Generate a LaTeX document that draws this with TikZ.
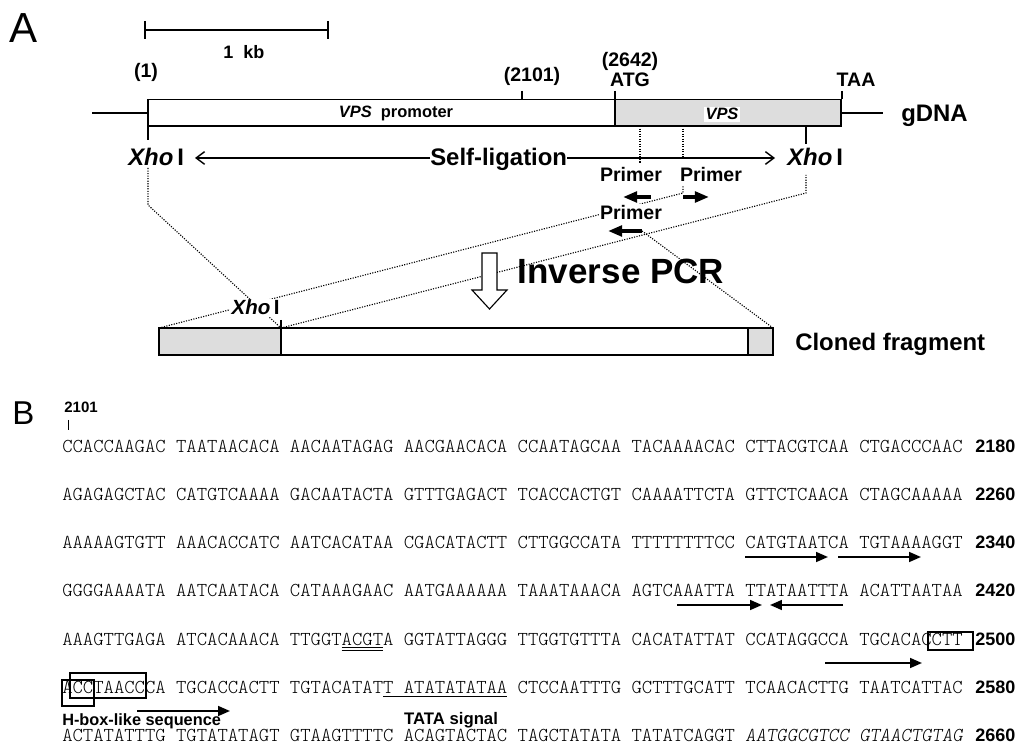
\documentclass[tikz,border=0pt]{standalone}
\usepackage{fontspec}
\setmainfont{Liberation Sans}
\newfontfamily\seqfont{lmmonolt10-regular.otf}[ItalicFont=lmmonolt10-oblique.otf]
\usepackage{tikz}
\usetikzlibrary{arrows.meta,positioning,calc}
\definecolor{cgene}{RGB}{221,221,221}
\tikzset{
  panel/.style={inner sep=0pt, font=\fontsize{29.9}{32}\selectfont},
  lab/.style={inner sep=0pt, anchor=base, font=\fontsize{13.9}{15}\selectfont\bfseries},
  biglab/.style={inner sep=0pt, anchor=base west, font=\fontsize{17}{19}\selectfont\bfseries},
  seqrow/.style={inner sep=0pt, anchor=base west, font=\seqfont\fontsize{14.02}{16}\selectfont},
  seqnum/.style={inner sep=0pt, anchor=base west, font=\fontsize{12.8}{14}\selectfont\bfseries},
  gene/.style={draw, line width=1.1pt},
  guide/.style={densely dotted, line width=0.8pt},
  ligarr/.style={-{Straight Barb[length=6pt,width=9pt]}, line width=1pt},
  primarr/.style={-{Triangle[length=10pt,width=7.5pt]}, line width=2.5pt},
  seqarr/.style={-{Triangle[length=8.5pt,width=7pt]}, line width=1.4pt},
  hbox/.style={draw, line width=0.9pt}
}
\begin{document}
\begin{tikzpicture}[x=0.025cm, y=-0.025cm]
    \useasboundingbox (0,0) rectangle (1018,753);

    %% ---- A: gDNA map ----------------------------------------------
    \node[panel] (pA) at (24,28) {A};

    \coordinate (kb0) at (145,30);
    \coordinate (kb1) at (328,30);
    \draw[line width=1pt] (kb0) -- (kb1);
    \draw[line width=1pt] ($(kb0)+(0,-9)$) -- ($(kb0)+(0,9)$);
    \draw[line width=1pt] ($(kb1)+(0,-9)$) -- ($(kb1)+(0,9)$);
    \node[lab, font=\fontsize{12.8}{14}\selectfont\bfseries] (kb) at (244,59) {1\ \ kb};

    \draw[gene] (92,113) -- (148,113);
    \draw[gene] (841,113) -- (883,113);
    \draw[gene, fill=white] (148,99.5) rectangle (615,126);
    \draw[gene, fill=cgene] (615,99.5) rectangle (841,126);

    \draw[line width=1.6pt] (148,99.5) -- (148,140);
    \draw[line width=1pt] (522,91) -- (522,99.5);
    \draw[line width=1pt] (615,91) -- (615,99.5);
    \draw[line width=1pt] (842,91) -- (842,99.5);
    \draw[line width=1pt] (806,126) -- (806,144);

    \node[lab] (p1)    at (146,78) {(1)};
    \node[lab] (p2101) at (532,82) {(2101)};
    \node[lab] (p2642) at (630,67) {(2642)};
    \node[lab] (atg)   at (630,87) {ATG};
    \node[lab] (taa)   at (856,87) {TAA};
    \node[lab, font=\fontsize{11.7}{13}\selectfont\bfseries] (prom) at (396,118)
      {\textit{VPS}\ \ promoter};
    \node[lab, font=\fontsize{11.7}{13}\selectfont\bfseries, fill=white, inner sep=1pt]
      (vps) at (722,120) {\textit{VPS}};
    \node[biglab] (gdna) at (901,122) {gDNA};

    %% ---- self-ligation ---------------------------------------------
    \node[biglab] (xhoL) at (128,166) {\textit{Xho}\,I};
    \node[biglab] (slig) at (430,166) {Self-ligation};
    \node[biglab] (xhoR) at (787,166) {\textit{Xho}\,I};
    \coordinate (ligL) at (195,158);
    \coordinate (ligR) at (775,158);
    \draw[ligarr] (slig.west |- ligL) -- (ligL);
    \draw[ligarr] (slig.east |- ligR) -- (ligR);

    %% ---- primers ---------------------------------------------------
    \draw[guide] (640,126) -- (640,163);
    \draw[guide] (683,126) -- (683,158);
    \node[lab] (prL) at (631,182) {Primer};
    \node[lab] (prR) at (711,182) {Primer};
    \coordinate (pL0) at (651,197);
    \coordinate (pL1) at (623,197);
    \coordinate (pR0) at (683,197);
    \coordinate (pR1) at (709,197);
    \draw[primarr] (pL0) -- (pL1);
    \draw[primarr] (pR0) -- (pR1);

    %% ---- inverse PCR -----------------------------------------------
    \coordinate (fTL)   at (159,328);
    \coordinate (fXho)  at (281,328);
    \coordinate (fTR)   at (773,328);
    \coordinate (xbend) at (148,205);
    \coordinate (pRtop) at (683,193);
    \coordinate (xRtop) at (806,193);
    \coordinate (pB0)   at (642,231);
    \coordinate (pB1)   at (608,231);
    \draw[guide] (148,168) -- (xbend) -- (fXho);
    \draw[guide] (fTL) -- (pRtop) -- (683,186);
    \draw[guide] (fXho) -- (xRtop) -- (806,175);
    \draw[guide] (pB0) -- (fTR);

    \node[lab, fill=white, inner sep=1pt] (prB) at (631,220) {Primer};
    \draw[primarr] (pB0) -- (pB1);

    \draw[fill=white, line width=0.8pt] (482,253) -- (497,253) -- (497,290)
      -- (507,290) -- (489.5,309) -- (472,290) -- (482,290) -- cycle;
    \node[lab, font=\fontsize{24.9}{27}\selectfont\bfseries] (ipcr) at (621,284)
      {Inverse PCR};

    \draw[gene, fill=white] (fTL) rectangle (773,355);
    \draw[gene, fill=cgene] (fTL) rectangle (281,355);
    \draw[gene, fill=cgene] (748,328) rectangle (773,355);
    \draw[line width=0.8pt] (281,320) -- (fXho);
    \node[biglab, font=\fontsize{14.6}{16}\selectfont\bfseries, fill=white, inner sep=1pt]
      (xhoF) at (230,315) {\textit{Xho}\,I};
    \node[biglab] (clone) at (795,351) {Cloned fragment};

    %% ---- B: promoter sequence --------------------------------------
    \node[panel, font=\fontsize{23.5}{25}\selectfont] (pB) at (23.5,413.5) {B};
    \node[lab, anchor=base west, font=\fontsize{10.7}{12}\selectfont\bfseries]
      (n2101) at (64,413) {2101};
    \draw[line width=0.7pt] (68,420) -- (68,430);

    \node[seqrow] (r1) at (62,452)
      {CCACCAAGAC TAATAACACA AACAATAGAG AACGAACACA CCAATAGCAA TACAAAACAC CTTACGTCAA CTGACCCAAC};
    \node[seqrow] (r2) at (62,500.3)
      {AGAGAGCTAC CATGTCAAAA GACAATACTA GTTTGAGACT TCACCACTGT CAAAATTCTA GTTCTCAACA CTAGCAAAAA};
    \node[seqrow] (r3) at (62,548.6)
      {AAAAAGTGTT AAACACCATC AATCACATAA CGACATACTT CTTGGCCATA TTTTTTTTCC CATGTAATCA TGTAAAAGGT};
    \node[seqrow] (r4) at (62,596.9)
      {GGGGAAAATA AATCAATACA CATAAAGAAC AATGAAAAAA TAAATAAACA AGTCAAATTA TTATAATTTA ACATTAATAA};
    \node[seqrow] (r5) at (62,645.2)
      {AAAGTTGAGA ATCACAAACA TTGGTACGTA GGTATTAGGG TTGGTGTTTA CACATATTAT CCATAGGCCA TGCACACCTT};
    \node[seqrow] (r6) at (62,693.5)
      {ACCTAACCCA TGCACCACTT TGTACATATT ATATATATAA CTCCAATTTG GCTTTGCATT TCAACACTTG TAATCATTAC};
    \node[seqrow] (r7) at (62,741.8)
      {ACTATATTTG TGTATATAGT GTAAGTTTTC ACAGTACTAC TAGCTATATA TATATCAGGT \textit{AATGGCGTCC GTAACTGTAG}};

    \node[seqnum] (n1) at (975,452)   {2180};
    \node[seqnum] (n2) at (975,500.3) {2260};
    \node[seqnum] (n3) at (975,548.6) {2340};
    \node[seqnum] (n4) at (975,596.9) {2420};
    \node[seqnum] (n5) at (975,645.2) {2500};
    \node[seqnum] (n6) at (975,693.5) {2580};
    \node[seqnum] (n7) at (975,741.8) {2660};

    %% repeats
    \coordinate (d1a) at (745,557);  \coordinate (d1b) at (828,557);
    \coordinate (d2a) at (838,557);  \coordinate (d2b) at (921,557);
    \draw[seqarr] (d1a) -- (d1b);
    \draw[seqarr] (d2a) -- (d2b);
    \coordinate (i1a) at (677,605);  \coordinate (i1b) at (762,605);
    \coordinate (i2a) at (843,605);  \coordinate (i2b) at (770,605);
    \draw[seqarr] (i1a) -- (i1b);
    \draw[seqarr] (i2a) -- (i2b);

    %% ACGT, CTT box and H-box
    \draw[line width=0.6pt] (341.5,647.7) -- (383,647.7);
    \draw[line width=0.6pt] (341.5,650.7) -- (383,650.7);
    \draw[hbox] (928,632) rectangle (973,650);
    \coordinate (h1a) at (825,663);  \coordinate (h1b) at (922,663);
    \draw[seqarr] (h1a) -- (h1b);

    \draw[hbox] (62,680) rectangle (94,706);
    \draw[hbox] (70,673) rectangle (146,698);
    \coordinate (h2a) at (137,711);  \coordinate (h2b) at (230,711);
    \draw[seqarr] (h2a) -- (h2b);
    \draw[line width=0.7pt] (383,696) -- (507,696);
    \node[lab, anchor=base west, font=\fontsize{11.6}{13}\selectfont\bfseries]
      (hlab) at (62,725) {H-box-like sequence};
    \node[lab, font=\fontsize{11.9}{13}\selectfont\bfseries]
      (tata) at (451,724) {TATA signal};

  \end{tikzpicture}
\end{document}
